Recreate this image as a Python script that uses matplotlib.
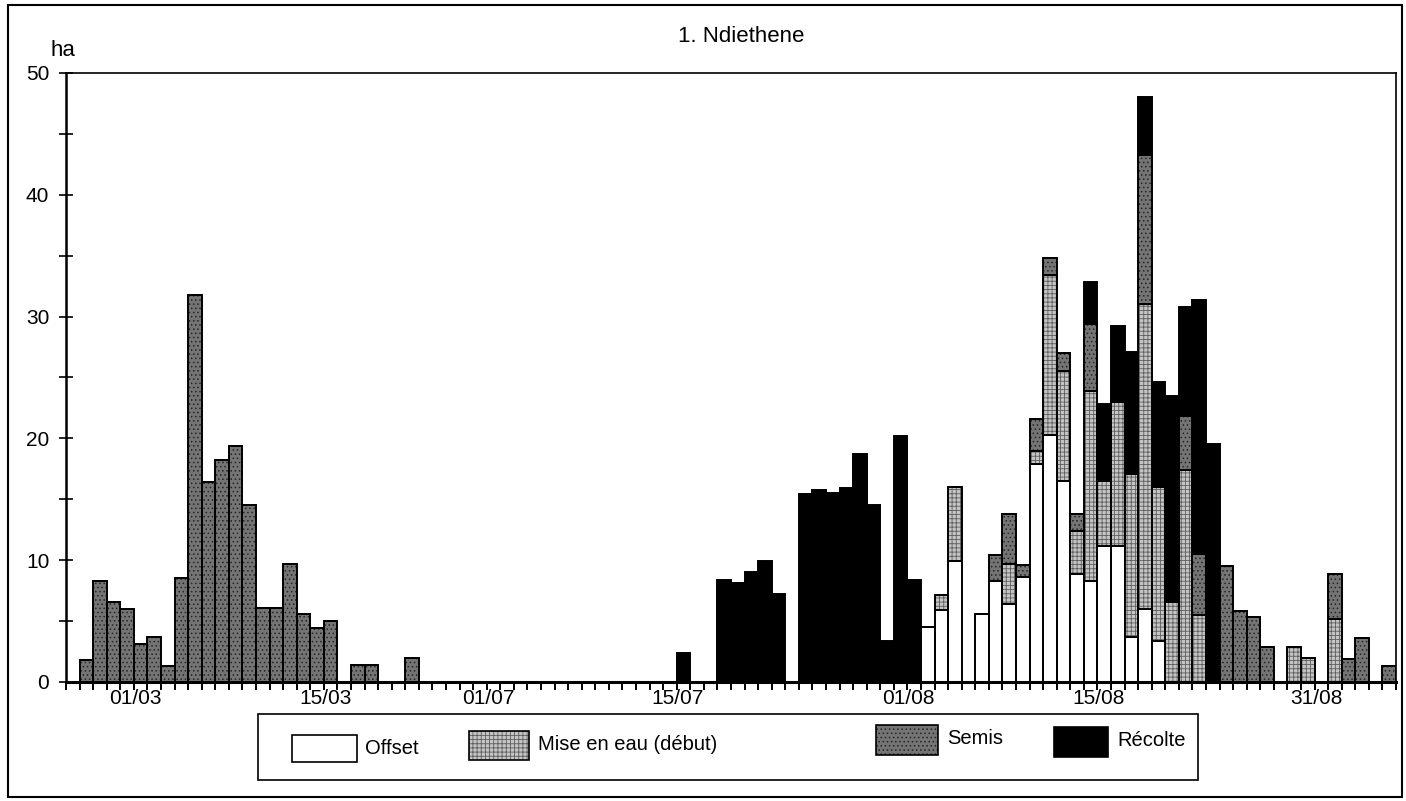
import numpy as np
import matplotlib
matplotlib.use("Agg")
import matplotlib.pyplot as plt
import matplotlib.patches as mpatches

plt.rcParams['font.family'] = ['Liberation Sans', 'DejaVu Sans']
plt.rcParams['hatch.linewidth'] = 0.6

# jours (un bâton par jour) : fin février - mars, puis juillet - début septembre
days = ([f'{d:02d}/02' for d in range(24, 29)] + [f'{d:02d}/03' for d in range(1, 27)]
        + [f'{d:02d}/07' for d in range(1, 32)] + [f'{d:02d}/08' for d in range(1, 32)]
        + [f'{d:02d}/09' for d in range(1, 6)])
shown = ['01/03', '15/03', '01/07', '15/07', '01/08', '15/08', '31/08']

# surfaces (ha) par opération
offset = ([0] * 5 + [0] * 26 + [0] * 31
          + [0, 4.5, 5.9, 9.9, 0, 5.6, 8.3, 6.4, 8.6, 17.9, 20.3, 16.5, 8.9, 8.3, 11.2, 11.2, 3.7, 6.0, 3.4,
             0, 0, 0, 0, 0, 0, 0, 0, 0, 0, 0, 0]
          + [0] * 5)
mise = ([0] * 5 + [0] * 26 + [0] * 31
        + [0, 0, 1.2, 6.1, 0, 0, 0, 3.3, 0, 1.1, 13.1, 9.0, 3.5, 15.6, 5.3, 11.8, 13.4, 25.0, 12.6, 6.6, 17.4, 5.5,
           0, 0, 0, 0, 0, 0, 2.9, 2.0, 0]
        + [5.2, 0, 0, 0, 0])
semis = ([0, 1.8, 8.3, 6.6, 6.0]
         + [3.1, 3.7, 1.3, 8.5, 31.8, 16.4, 18.2, 19.4, 14.5, 6.1, 6.1, 9.7, 5.6, 4.4, 5.0, 0, 1.4, 1.4, 0, 0, 2.0,
            0, 0, 0, 0, 0]
         + [0] * 31
         + [0, 0, 0, 0, 0, 0, 2.1, 4.1, 1.0, 2.6, 1.4, 1.5, 1.4, 5.5, 0, 0, 0, 12.3, 0, 0, 4.4, 5.0, 0,
            9.5, 5.8, 5.3, 2.9, 0, 0, 0, 0]
         + [3.7, 1.9, 3.6, 0, 1.3])
recolte = ([0] * 5 + [0] * 26
           + [0, 0, 0, 0, 0, 0, 0, 0, 0, 0, 0, 0, 0, 0, 2.4, 0, 0, 8.4, 8.1, 9.0, 9.9, 7.2, 0,
              15.4, 15.8, 15.5, 15.9, 18.7, 14.5, 3.4, 20.2]
           + [8.4, 0, 0, 0, 0, 0, 0, 0, 0, 0, 0, 0, 0, 3.4, 6.3, 6.2, 10.0, 4.7, 8.6, 16.9, 9.0, 20.9, 19.5,
              0, 0, 0, 0, 0, 0, 0, 0]
           + [0] * 5)

series = [
    ('Offset', offset, 'white', None, 'white'),
    ('Mise en eau (début)', mise, '#c4c4c4', '++++', '#5e5e5e'),
    ('Semis', semis, '#747474', '....', '#262626'),
    ('Récolte', recolte, 'black', None, 'black'),
]

fig = plt.figure(figsize=(14.06, 8.01), dpi=100)
ax = fig.add_axes([0.0469, 0.1486, 0.9460, 0.7603])

x = np.arange(len(days))
bottom = np.zeros(len(days))
for name, vals, face, hatch, hcol in series:
    vals = np.array(vals, dtype=float)
    ax.bar(x, vals, 1.0, bottom=bottom, color=face, edgecolor=hcol, hatch=hatch, linewidth=0)
    ax.bar(x, vals, 1.0, bottom=bottom, fill=False, edgecolor='black', linewidth=1.4)
    bottom += vals

ax.set_xlim(-0.5, len(days) - 0.5)
ax.set_ylim(0, 50)

ax.set_yticks(np.arange(0, 51, 10))
ax.set_yticks(np.arange(0, 51, 5), minor=True)
ax.tick_params(axis='y', which='both', direction='inout', length=10, width=1.2, labelsize=15, pad=7)

pos = [days.index(d) - 0.4 for d in shown]
ax.set_xticks(pos)
ax.set_xticklabels(shown)
ax.set_xticks(np.arange(-0.5, len(days)), minor=True)
ax.tick_params(axis='x', which='major', length=0, labelsize=15, pad=5)
ax.tick_params(axis='x', which='minor', direction='out', length=6, width=1.4)

for s in ax.spines.values():
    s.set_linewidth(1.2)
ax.spines['bottom'].set_linewidth(2.2)
ax.spines['left'].set_linewidth(1.8)

fig.text(0.527, 0.955, '1. Ndiethene', ha='center', va='center', fontsize=16)
fig.text(0.036, 0.937, 'ha', ha='left', va='center', fontsize=16)

# légende
W, H = 1406.0, 801.0
def box(x0, y0, x1, y1, **kw):
    return mpatches.Rectangle((x0 / W, 1 - y1 / H), (x1 - x0) / W, (y1 - y0) / H,
                              transform=fig.transFigure, **kw)

fig.patches.append(box(258, 714, 1198, 780, fill=False, edgecolor='black', linewidth=1.2))
swatches = [(292, 735, 357, 762, 365, 748), (469, 731, 529, 760, 538, 745),
            (876, 725, 938, 755, 947, 738), (1054, 727, 1108, 757, 1117, 741)]
for (name, vals, face, hatch, hcol), (x0, y0, x1, y1, tx, ty) in zip(series, swatches):
    fig.patches.append(box(x0, y0, x1, y1, facecolor=face, edgecolor=hcol, hatch=hatch, linewidth=0))
    fig.patches.append(box(x0, y0, x1, y1, fill=False, edgecolor='black', linewidth=1.2))
    fig.text(tx / W, 1 - ty / H, name, ha='left', va='center', fontsize=14.5)

# cadre extérieur
fig.patches.append(box(8, 5, 1402, 797, fill=False, edgecolor='black', linewidth=1.5))

fig.savefig('out.png', dpi=100)
